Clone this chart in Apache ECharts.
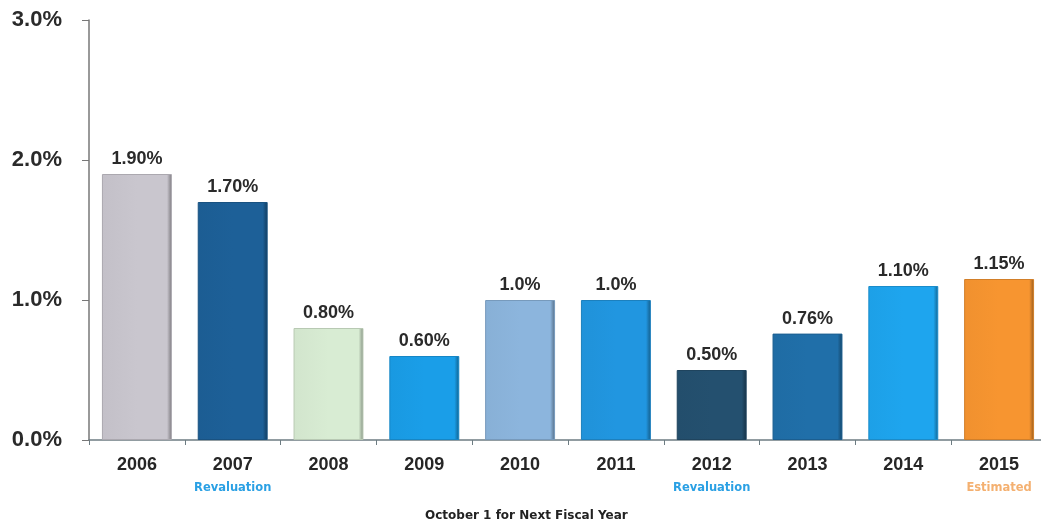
<!DOCTYPE html>
<html>
<head>
<meta charset="utf-8">
<style>
  html, body { margin: 0; padding: 0; background: #fff; overflow: hidden; }
  #chart { width: 1047px; height: 524px; }
</style>
<script src="https://cdn.jsdelivr.net/npm/echarts@6/dist/echarts.min.js"></script>
</head>
<body>
<div id="chart"></div>
<script>
// Fiscal years and their rate adjustments
const years = ['2006', '2007', '2008', '2009', '2010', '2011', '2012', '2013', '2014', '2015'];
const notes = ['', 'Revaluation', '', '', '', '', 'Revaluation', '', '', 'Estimated'];
const rates = [1.90, 1.70, 0.80, 0.60, 1.0, 1.0, 0.50, 0.76, 1.10, 1.15];
const rateLabels = ['1.90%', '1.70%', '0.80%', '0.60%', '1.0%', '1.0%', '0.50%', '0.76%', '1.10%', '1.15%'];
const yTicks = [0, 1, 2, 3];

// Bar fill colours, one per year
const barColors = ['#c9c6ce', '#1d6098', '#d8ecd3', '#1a9ee8', '#8cb5dd',
                   '#2196e0', '#24506f', '#206fa9', '#1ea5ee', '#f79530'];

function shade(hex, f) {
  const n = parseInt(hex.slice(1), 16);
  const r = Math.round(((n >> 16) & 255) * f);
  const g = Math.round(((n >> 8) & 255) * f);
  const b = Math.round((n & 255) * f);
  return 'rgb(' + r + ',' + g + ',' + b + ')';
}

const font = '"Liberation Sans", Arial, sans-serif';
const chart = echarts.init(document.getElementById('chart'));

chart.setOption({
  animation: false,
  title: {
    text: 'October 1 for Next Fiscal Year',
    left: 420,
    top: 505,
    textStyle: { fontFamily: '"DejaVu Sans", sans-serif', fontSize: 12, fontWeight: 'bold', color: '#222' }
  },
  // the last category runs a few pixels past the visible edge of the page
  grid: { left: 89, top: 20, right: 0, bottom: 84, containLabel: false },
  xAxis: {
    type: 'category',
    data: years,
    axisLine: { lineStyle: { color: '#6d7c82', width: 1.5 } },
    axisTick: { show: true, length: 5, interval: 0, lineStyle: { color: '#6d7c82' } },
    axisLabel: {
      interval: 0,
      margin: 14,
      formatter: function (v, i) {
        const note = notes[i];
        if (!note) return '{y|' + v + '}';
        return '{y|' + v + '}\n{' + (note === 'Estimated' ? 'e' : 'r') + '|' + note + '}';
      },
      rich: {
        y: { fontFamily: font, fontSize: 18, fontWeight: 'bold', color: '#262626', lineHeight: 22 },
        r: { fontFamily: '"DejaVu Sans", sans-serif', fontSize: 11.5, fontWeight: 'bold', color: '#2aa0e4', lineHeight: 24 },
        e: { fontFamily: '"DejaVu Sans", sans-serif', fontSize: 11.5, fontWeight: 'bold', color: '#f4b070', lineHeight: 24 }
      }
    }
  },
  yAxis: {
    type: 'value',
    min: yTicks[0],
    max: yTicks[yTicks.length - 1],
    interval: 1,
    splitLine: { show: false },
    axisLine: { show: true, lineStyle: { color: '#777', width: 1.5 } },
    axisTick: { show: true, length: 7, lineStyle: { color: '#777' } },
    axisLabel: {
      margin: 27,
      fontFamily: font,
      fontSize: 22,
      fontWeight: 'bold',
      color: '#2a2a2a',
      formatter: function (v) { return v.toFixed(1) + '%'; }
    }
  },
  series: [{
    type: 'bar',
    barWidth: '73%',
    data: rates.map(function (v, i) {
      return {
        value: v,
        itemStyle: {
          color: {
            type: 'linear', x: 0, y: 0, x2: 1, y2: 0,
            colorStops: [
              { offset: 0, color: shade(barColors[i], 0.97) },
              { offset: 0.5, color: barColors[i] },
              { offset: 0.93, color: barColors[i] },
              { offset: 1, color: shade(barColors[i], 0.6) }
            ]
          },
          borderColor: shade(barColors[i], 0.85),
          borderWidth: 1
        }
      };
    }),
    label: {
      show: true,
      position: 'top',
      distance: 6,
      fontFamily: font,
      fontSize: 18,
      fontWeight: 'bold',
      color: '#2a2a2a',
      formatter: function (p) { return rateLabels[p.dataIndex]; }
    }
  }]
});
</script>
</body>
</html>
